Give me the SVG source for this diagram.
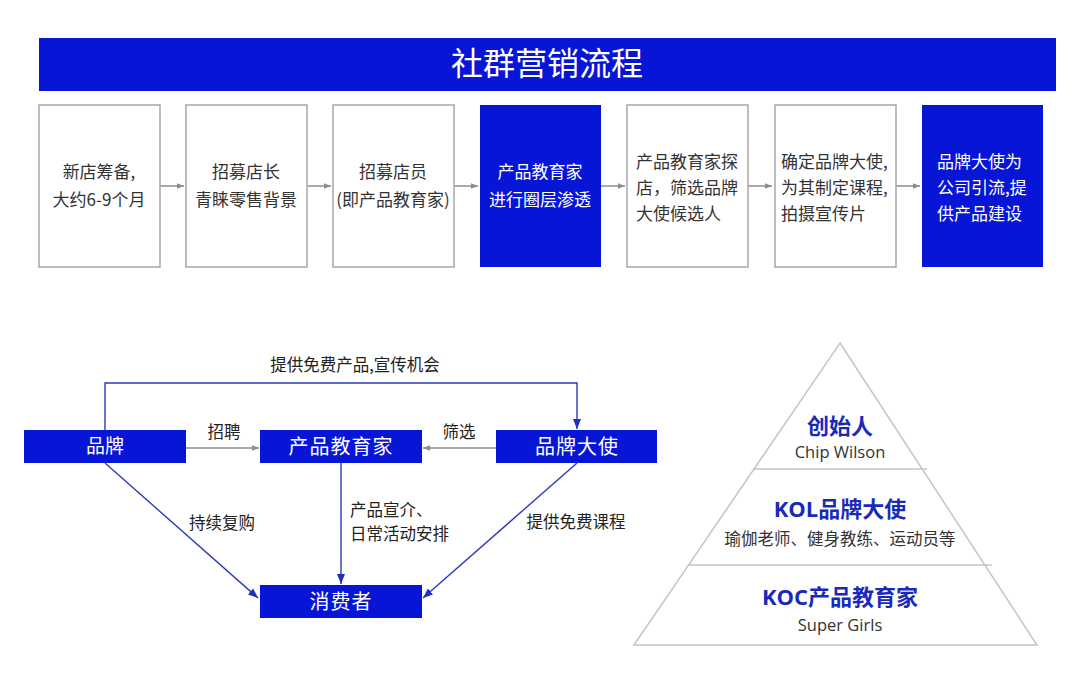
<svg xmlns="http://www.w3.org/2000/svg" width="1080" height="689" viewBox="0 0 1080 689">
<defs>
<style>
.t{font-family:"Noto Sans CJK SC","Liberation Sans",sans-serif;}
.box{fill:#fff;stroke:#a8a8a8;stroke-width:1.5;}
.bbox{fill:#0716d6;}
.bt{font-size:17px;fill:#333;}
.wt{fill:#fff;}
.garrow{stroke:#8c8c8c;stroke-width:1.5;fill:none;}
.barrow{stroke:#2b3bb8;stroke-width:1.4;fill:none;}
.lbl{font-size:16.5px;fill:#222;}
.pyr{fill:none;stroke:#c4c4c4;stroke-width:1.5;}
.ph{font-size:22px;font-weight:bold;fill:#1a2ab8;}
.ps{font-size:16.5px;fill:#333;}
</style>
<marker id="ga" viewBox="0 0 10 10" refX="10" refY="5" markerWidth="7" markerHeight="7" markerUnits="userSpaceOnUse" orient="auto"><path d="M0,1 L10,5 L0,9 z" fill="#8c8c8c"/></marker>
<marker id="ba" viewBox="0 0 10 10" refX="10" refY="5" markerWidth="10" markerHeight="10" markerUnits="userSpaceOnUse" orient="auto"><path d="M0,1 L10,5 L0,9 z" fill="#1f2fc0"/></marker>
</defs>
<rect width="1080" height="689" fill="#fff"/>

<g id="title">
<rect x="39" y="38" width="1017" height="53" class="bbox"/>
<text x="547" y="75" text-anchor="middle" class="t wt" font-size="32">社群营销流程</text>
</g>

<g id="connectors">
<line x1="160" y1="186" x2="184" y2="186" class="garrow" marker-end="url(#ga)"/>
<line x1="307" y1="186" x2="331" y2="186" class="garrow" marker-end="url(#ga)"/>
<line x1="454" y1="186" x2="478" y2="186" class="garrow" marker-end="url(#ga)"/>
<line x1="601" y1="186" x2="625" y2="186" class="garrow" marker-end="url(#ga)"/>
<line x1="748" y1="186" x2="772" y2="186" class="garrow" marker-end="url(#ga)"/>
<line x1="896" y1="186" x2="920" y2="186" class="garrow" marker-end="url(#ga)"/>

<line x1="186" y1="448" x2="259" y2="448" class="garrow" marker-end="url(#ga)"/>
<line x1="496" y1="448" x2="423" y2="448" class="garrow" marker-end="url(#ga)"/>
<polyline points="105,430 105,383 577,383 577,429" class="barrow" marker-end="url(#ba)"/>
<line x1="105" y1="463" x2="258" y2="598" class="barrow" marker-end="url(#ba)"/>
<line x1="341" y1="463" x2="341" y2="584" class="barrow" marker-end="url(#ba)"/>
<line x1="577" y1="463" x2="423" y2="598" class="barrow" marker-end="url(#ba)"/>
<text x="355" y="371" text-anchor="middle" class="t lbl">提供免费产品,宣传机会</text>
<text x="224" y="438" text-anchor="middle" class="t lbl">招聘</text>
<text x="459" y="438" text-anchor="middle" class="t lbl">筛选</text>
<text x="222" y="529" text-anchor="middle" class="t lbl">持续复购</text>
<text x="350" y="516" class="t lbl">产品宣介、</text>
<text x="350" y="540" class="t lbl">日常活动安排</text>
<text x="576" y="528" text-anchor="middle" class="t lbl">提供免费课程</text>
</g>

<g id="step1"><rect x="39" y="105" width="121" height="162" class="box"/>
<text class="t bt" text-anchor="middle"><tspan x="99" y="178">新店筹备,</tspan><tspan x="99" y="206">大约6-9个月</tspan></text></g>
<g id="step2"><rect x="186" y="105" width="121" height="162" class="box"/>
<text class="t bt" text-anchor="middle"><tspan x="246" y="178">招募店长</tspan><tspan x="246" y="206">青睐零售背景</tspan></text></g>
<g id="step3"><rect x="333" y="105" width="121" height="162" class="box"/>
<text class="t bt" text-anchor="middle"><tspan x="393" y="178">招募店员</tspan><tspan x="393" y="206">(即产品教育家)</tspan></text></g>
<g id="step4"><rect x="480" y="105" width="121" height="162" class="bbox"/>
<text class="t bt wt" text-anchor="middle"><tspan x="540" y="178">产品教育家</tspan><tspan x="540" y="206">进行圈层渗透</tspan></text></g>
<g id="step5"><rect x="627" y="105" width="121" height="162" class="box"/>
<text class="t bt"><tspan x="636" y="168">产品教育家探</tspan><tspan x="636" y="194">店，筛选品牌</tspan><tspan x="636" y="220">大使候选人</tspan></text></g>
<g id="step6"><rect x="775" y="105" width="121" height="162" class="box"/>
<text class="t bt"><tspan x="781" y="168">确定品牌大使,</tspan><tspan x="781" y="194">为其制定课程,</tspan><tspan x="781" y="220">拍摄宣传片</tspan></text></g>
<g id="step7"><rect x="922" y="105" width="121" height="162" class="bbox"/>
<text class="t bt wt"><tspan x="937" y="168">品牌大使为</tspan><tspan x="937" y="194">公司引流,提</tspan><tspan x="937" y="220">供产品建设</tspan></text></g>

<g id="brand"><rect x="24" y="430" width="162" height="33" class="bbox"/>
<text x="105" y="453" text-anchor="middle" class="t wt" font-size="19">品牌</text></g>
<g id="educator"><rect x="260" y="430" width="162" height="33" class="bbox"/>
<text x="341" y="454" text-anchor="middle" class="t wt" font-size="20" letter-spacing="1">产品教育家</text></g>
<g id="ambassador"><rect x="496" y="430" width="161" height="33" class="bbox"/>
<text x="577" y="454" text-anchor="middle" class="t wt" font-size="20" letter-spacing="1">品牌大使</text></g>
<g id="consumer"><rect x="260" y="585" width="162" height="33" class="bbox"/>
<text x="341" y="609" text-anchor="middle" class="t wt" font-size="20" letter-spacing="1">消费者</text></g>

<g id="pyramid">
<polygon points="840,343 1037,645 634,645" class="pyr"/>
<line x1="753" y1="469" x2="927" y2="469" class="pyr"/>
<line x1="688" y1="565" x2="992" y2="565" class="pyr"/>
<text x="840" y="434" text-anchor="middle" class="t ph">创始人</text>
<text x="840" y="458" text-anchor="middle" class="ps" font-family="'Open Sans','Liberation Sans',sans-serif">Chip Wilson</text>
<text x="840" y="517" text-anchor="middle" class="ph" font-family="'Open Sans','Noto Sans CJK SC',sans-serif">KOL品牌大使</text>
<text x="840" y="545" text-anchor="middle" class="t ps">瑜伽老师、健身教练、运动员等</text>
<text x="840" y="605" text-anchor="middle" class="ph" font-family="'Open Sans','Noto Sans CJK SC',sans-serif">KOC产品教育家</text>
<text x="840" y="631" text-anchor="middle" class="ps" font-family="'Open Sans','Liberation Sans',sans-serif">Super Girls</text>
</g>
</svg>
